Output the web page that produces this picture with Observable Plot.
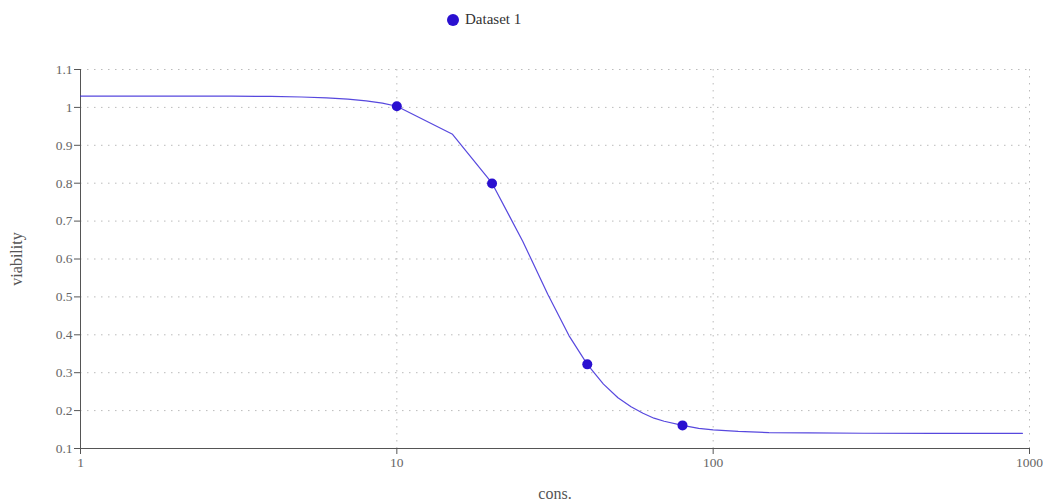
<!DOCTYPE html>
<html>
<head>
<meta charset="utf-8">
<script src="https://cdn.jsdelivr.net/npm/d3@7"></script>
<script src="https://cdn.jsdelivr.net/npm/@observablehq/plot@0.6"></script>
<style>
  html, body { margin: 0; padding: 0; background: #fff; }
  #legend { position: relative; width: 1043px; height: 40px; font-family: "Liberation Serif", serif; font-size: 15px; color: #333; }
  #legend .item { position: absolute; left: 447px; top: 11px; display: flex; align-items: center; }
  #legend .dot { width: 12px; height: 12px; border-radius: 50%; background: #2a10d0; margin-right: 6px; }
</style>
</head>
<body>
<div id="legend"><div class="item"><span class="dot"></span><span id="legendText"></span></div></div>
<div id="chart"></div>
<script>
// ---- data ----
const seriesName = "Dataset 1";
const pointCons = [10, 20, 40, 80];
const pointViability = [1.003, 0.799, 0.322, 0.161];
const curveCons = [1, 2, 3, 4, 5, 6, 7, 8, 9, 10, 15, 20, 25, 30, 35, 40, 45, 50, 55, 60, 65, 70, 80, 90, 100, 120, 150, 200, 300, 500, 950];
const curveViability = [1.030, 1.030, 1.0296, 1.0289, 1.0275, 1.0253, 1.022, 1.0174, 1.0112, 1.003, 0.929, 0.800, 0.647, 0.507, 0.398, 0.322, 0.270, 0.234, 0.210, 0.193, 0.180, 0.172, 0.161, 0.153, 0.149, 0.145, 0.142, 0.141, 0.1403, 0.1401, 0.140];
const xTicks = [1, 10, 100, 1000];
const yTicks = [0.1, 0.2, 0.3, 0.4, 0.5, 0.6, 0.7, 0.8, 0.9, 1, 1.1];
const xLabel = "cons.";
const yLabel = "viability";

document.getElementById("legendText").textContent = seriesName;

const points = pointCons.map((x, i) => ({x, y: pointViability[i]}));
const curve = curveCons.map((x, i) => ({x, y: curveViability[i]}));

const chart = Plot.plot({
  width: 1043,
  height: 462,
  marginTop: 29,
  marginBottom: 54,
  marginLeft: 80,
  marginRight: 14,
  style: {fontFamily: "'Liberation Serif', serif", fontSize: "13px", color: "#666", background: "#fff"},
  x: {type: "log", domain: [1, 1000]},
  y: {domain: [0.1, 1.1]},
  marks: [
    Plot.gridY(yTicks, {stroke: "#bbb", strokeOpacity: 1, strokeDasharray: "1.5,5.5"}),
    Plot.gridX([10, 100, 1000], {stroke: "#bbb", strokeOpacity: 1, strokeDasharray: "1.5,5.5"}),
    Plot.axisY(yTicks, {tickSize: 6, tickPadding: 2, tickFormat: d => String(+d.toFixed(1)), stroke: "#555", fill: "#666", label: null, fontSize: 13.5}),
    Plot.axisY([], {tickSize: 0, label: yLabel, labelAnchor: "center", labelArrow: "none", labelOffset: 70, fontSize: 16, fill: "#555"}),
    Plot.axisX(xTicks, {tickSize: 6, tickPadding: 3, tickFormat: d => String(d), stroke: "#555", fill: "#666", label: null, fontSize: 13.5}),
    Plot.text([xLabel], {frameAnchor: "bottom", dy: 50, text: d => d, fontSize: 16, fill: "#555"}),
    Plot.ruleX([1], {stroke: "#555"}),
    Plot.ruleY([0.1], {stroke: "#555"}),
    Plot.line(curve, {x: "x", y: "y", stroke: "#3a28d8", strokeWidth: 1.2, strokeOpacity: 0.85}),
    Plot.dot(points, {x: "x", y: "y", r: 5, fill: "#2a10d0", stroke: "none"})
  ]
});
document.getElementById("chart").appendChild(chart);
</script>
</body>
</html>
